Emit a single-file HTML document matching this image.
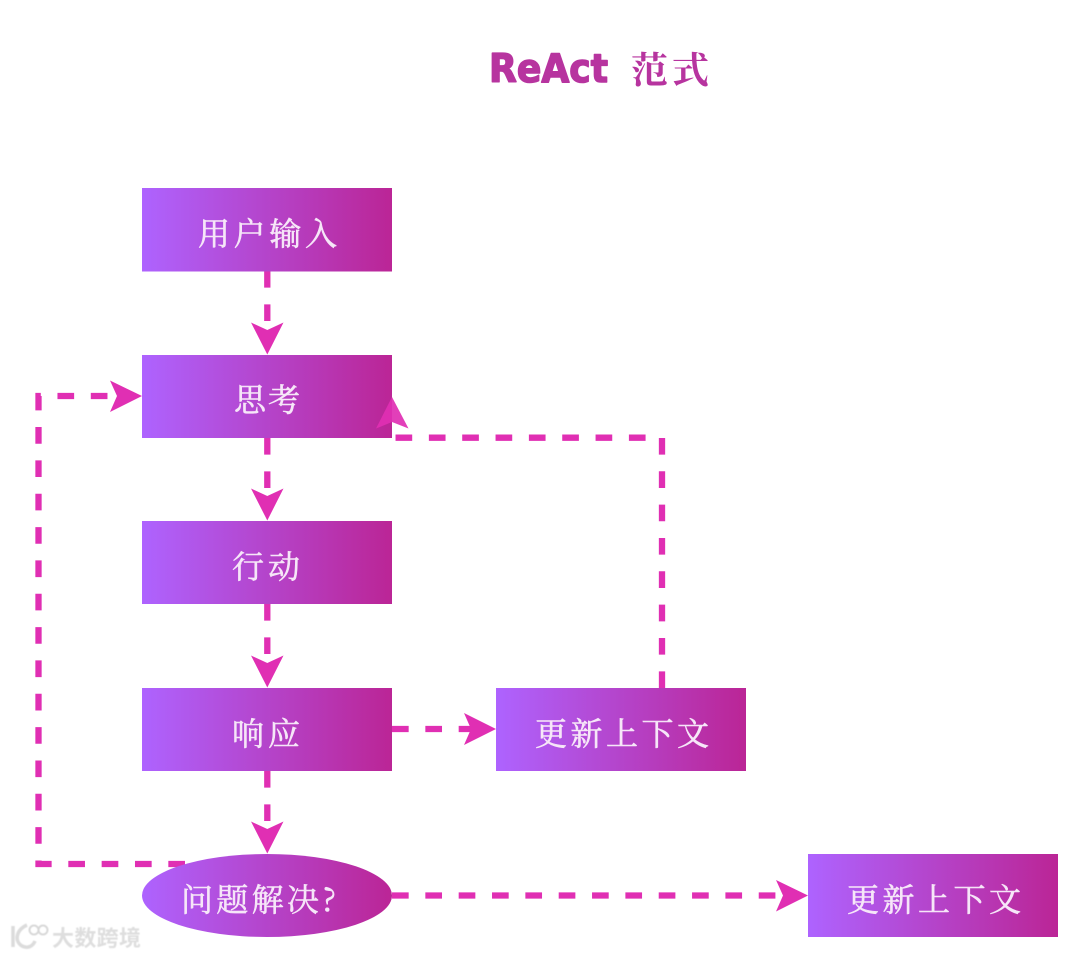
<!DOCTYPE html>
<html>
<head>
<meta charset="utf-8">
<style>
html,body{margin:0;padding:0;background:#fff;width:1080px;height:957px;overflow:hidden}
svg{display:block}
.t{font-family:"Noto Serif CJK SC","Liberation Serif",serif;font-size:32px;fill:#f6e6f8;stroke:#f6e6f8;stroke-width:.55;font-weight:400;text-anchor:start}
.c{fill:none;stroke:#e02fb3;stroke-width:6.3;stroke-dasharray:16.67 16.67}
.h{fill:#e02fb3}
</style>
</head>
<body>
<svg width="1080" height="957" viewBox="0 0 1080 957" xmlns="http://www.w3.org/2000/svg">
<defs>
<linearGradient id="g" x1="0" x2="1" y1="0" y2="0">
<stop offset="0" stop-color="#ae63ff"/>
<stop offset="1" stop-color="#bb2596"/>
</linearGradient>
<filter id="b" x="-10%" y="-10%" width="120%" height="120%"><feGaussianBlur stdDeviation="0.6"/></filter>
</defs>

<text x="489" y="82" font-family="'DejaVu Sans','Liberation Sans',sans-serif" font-weight="700" font-size="39" fill="#b7349f" stroke="#b7349f" stroke-width="1.5" stroke-linejoin="round" textLength="119" lengthAdjust="spacingAndGlyphs">ReAct</text>
<text x="631" y="83" font-family="'Noto Serif CJK SC',serif" font-weight="700" font-size="37" fill="#b7349f" textLength="78">范式</text>

<!-- connectors -->
<path class="c" d="M267.3,271V330"/>
<path class="c" d="M267.3,438V497"/>
<path class="c" d="M267.3,604V663"/>
<path class="c" d="M267.3,771V830"/>
<path class="c" d="M185,864H38.5V396H117"/>
<path class="c" d="M392,729H475"/>
<path class="c" d="M392,895.500H787"/>

<!-- nodes -->
<rect x="142" y="188" width="250" height="83.500" fill="url(#g)"/>
<rect x="142" y="355" width="250" height="83" fill="url(#g)"/>
<rect x="142" y="521" width="250" height="83" fill="url(#g)"/>
<rect x="142" y="688" width="250" height="83" fill="url(#g)"/>
<rect x="496" y="688" width="250" height="83" fill="url(#g)"/>
<rect x="808" y="854" width="250" height="83" fill="url(#g)"/>
<ellipse cx="267" cy="895.500" rx="125" ry="41.500" fill="url(#g)"/>

<path class="c" d="M662,688V437.700H395"/>

<!-- arrowheads -->
<path class="h" d="M267.300,354.500L251,322.500L267.300,330L283.500,322.500Z"/>
<path class="h" d="M267.300,520.500L251,488.500L267.300,496L283.500,488.500Z"/>
<path class="h" d="M267.300,687.500L251,655.500L267.300,663L283.500,655.500Z"/>
<path class="h" d="M267.300,853.500L251,821.500L267.300,829L283.500,821.500Z"/>
<path class="h" d="M142,396L110,380.500L117,396L110,412Z"/>
<path class="h" d="M496,729L464,713L471,729L464,745Z"/>
<path class="h" d="M808,895.500L776,880L783,895.500L776,911.500Z"/>
<path d="M392,397L376,428.500L392,422L408.500,428.500Z" fill="#e02fb3" fill-opacity=".92"/>

<!-- labels -->
<text class="t" x="198" y="245" textLength="139">用户输入</text>
<text class="t" x="234" y="411" textLength="66">思考</text>
<text class="t" x="232" y="578" textLength="68">行动</text>
<text class="t" x="232" y="745" textLength="68">响应</text>
<text class="t" x="535" y="745" textLength="174">更新上下文</text>
<text class="t" x="847" y="911" textLength="174">更新上下文</text>
<text class="t" x="181" y="911" textLength="155">问题解决?</text>

<!-- watermark -->
<g filter="url(#b)">
<path d="M13,926V947M27,925C16,930 14,941 22,946C28,949 33,946 35,941" fill="none" stroke="#dcdcdc" stroke-width="3.500"/>
<circle cx="34" cy="930" r="4.500" fill="none" stroke="#d8d8d8" stroke-width="2"/>
<circle cx="43" cy="930" r="4.500" fill="none" stroke="#d8d8d8" stroke-width="2"/>
<text x="52" y="946" font-family="'Noto Sans CJK SC',sans-serif" font-size="22" font-weight="700" fill="#dedede" textLength="89">大数跨境</text>
</g>
</svg>
</body>
</html>
